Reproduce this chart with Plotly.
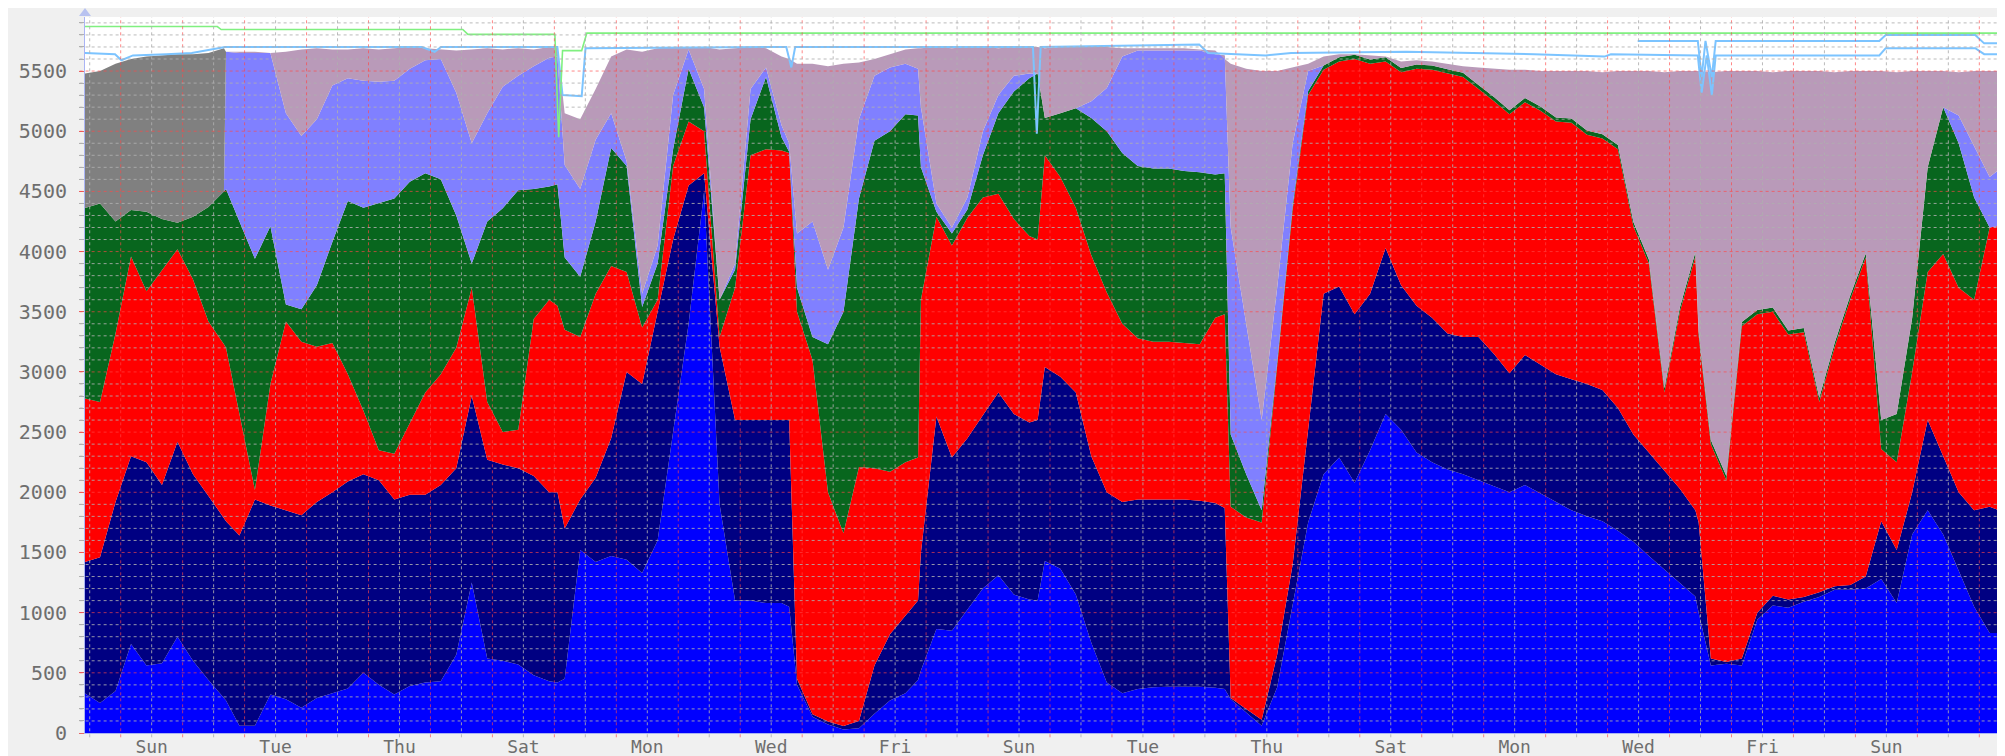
import numpy as np
import pandas as pd
import plotly.graph_objects as go

# ---- sample times: every 6 hours starting Saturday 10:00 (125 samples) ----
sample_start = "2024-03-02 10:00"
n_samples = 125
sunday0 = pd.Timestamp("2024-03-03 00:00")

# ---- cumulative stack tops ----
blue_top = [330,250,350,740,560,580,800,600,440,290,
            60,60,320,280,210,290,330,370,500,400,
            320,390,420,430,650,1250,620,600,570,480,
            430,450,1520,1420,1470,1440,1330,1600,2520,3400,
            4500,1900,1100,1100,1080,1080,400,135,70,30,
            40,160,270,330,520,865,850,1020,1200,1310,
            1150,1110,1430,1365,1150,750,420,330,365,380,
            385,385,385,375,280,170,60,380,1050,1750,
            2150,2290,2080,2350,2650,2520,2330,2250,2190,2150,
            2100,2050,2000,2060,1990,1920,1850,1800,1760,1680,
            1590,1470,1360,1250,1135,560,575,560,940,1060,
            1040,1090,1130,1190,1190,1200,1280,1080,1650,1850,
            1650,1350,1050,830,830]

navy_top = [1420,1460,1920,2300,2250,2060,2420,2150,1970,1780,
            1640,1940,1890,1850,1810,1920,2000,2090,2150,2100,
            1940,1980,1980,2060,2200,2800,2270,2230,2200,2135,
            2000,1700,1940,2120,2450,3000,2900,3500,4100,4550,
            4650,3210,2600,2600,2600,2600,450,155,95,58,
            100,560,820,970,1500,2630,2290,2450,2640,2830,
            2650,2580,3040,2960,2830,2300,2000,1920,1940,1940,
            1940,1940,1930,1910,290,200,110,650,1400,2520,
            3650,3710,3480,3650,4030,3720,3550,3450,3320,3290,
            3290,3150,2990,3140,3060,2980,2940,2900,2850,2700,
            2480,2330,2180,2030,1850,620,590,620,1000,1140,
            1110,1130,1170,1220,1230,1300,1760,1520,2000,2600,
            2300,2000,1850,1880,1830]

red_top = [2780,2750,3320,3960,3670,3850,4020,3770,3420,3230,
           2650,2020,2900,3420,3250,3210,3240,2980,2680,2350,
           2320,2570,2830,2980,3200,3700,2750,2500,2520,3440,
           3600,3350,3290,3650,3880,3830,3370,3600,4710,5080,
           5000,3290,3700,4800,4850,4840,3500,3100,2000,1660,
           2210,2200,2170,2250,3600,4290,4050,4280,4450,4480,
           4270,4130,4800,4620,4365,3970,3660,3400,3280,3250,
           3250,3240,3230,3450,1880,1790,1750,3050,4350,5300,
           5510,5580,5600,5560,5580,5490,5520,5510,5480,5450,
           5350,5250,5140,5240,5170,5080,5070,4970,4940,4850,
           4210,3900,2830,3500,3960,2400,2100,3380,3480,3500,
           3310,3330,2750,3210,3600,3950,2360,2250,3000,3830,
           3980,3700,3600,4200,4220]

green_top = [4360,4400,4250,4345,4330,4270,4240,4290,4370,4500,
             4250,3940,4210,3560,3520,3720,4080,4420,4365,4400,
             4440,4580,4650,4600,4300,3900,4250,4360,4510,4520,
             4540,3950,3790,4250,4860,4710,3540,3900,4850,5520,
             5200,3600,3850,5100,5450,4950,3700,3290,3230,3500,
             4440,4920,5000,5140,4700,4330,4150,4350,4800,5150,
             5330,5440,5110,5150,5190,5110,5000,4820,4710,4690,
             4690,4670,4660,4640,2480,2150,1850,3080,4385,5335,
             5545,5615,5635,5595,5615,5525,5555,5545,5515,5485,
             5385,5285,5175,5275,5205,5115,5105,5005,4975,4885,
             4245,3935,2865,3535,3995,2435,2135,3415,3515,3535,
             3345,3365,2785,3245,3635,3985,2600,2650,3450,4700,
             5200,4900,4450,4200,4220]

lavender_top = [4360,4400,4250,4345,4330,4270,4240,4290,4370,4500,
                5650,5650,5650,5150,4960,5100,5380,5440,5420,5410,
                5420,5520,5590,5600,5320,4900,5150,5370,5460,5540,
                5610,4720,4520,4930,5150,4750,3650,4050,5300,5680,
                5350,3600,3900,5350,5530,5050,4150,4250,3850,4200,
                5100,5460,5530,5560,5200,4400,4200,4450,5000,5300,
                5460,5480,5110,5150,5190,5250,5360,5620,5670,5670,
                5670,5670,5670,5640,4200,3400,2600,3700,4900,5500,
                5545,5615,5635,5595,5615,5525,5555,5545,5515,5485,
                5385,5285,5175,5275,5205,5115,5105,5005,4975,4885,
                4245,3935,2865,3535,3995,2435,2135,3415,3515,3535,
                3345,3365,2785,3245,3635,3985,2600,2650,3450,4700,
                5200,5130,4880,4620,4720]

grey_top = [5480,5500,5560,5600,5620,5630,5640,5640,5650,5690,
            5650,5650,5650,5150,4960,5100,5380,5440,5420,5410,
            5420,5520,5590,5600,5320,4900,5150,5370,5460,5540,
            5610,4720,4520,4930,5150,4750,3650,4050,5300,5680,
            5350,3600,3900,5350,5530,5050,4150,4250,3850,4200,
            5100,5460,5530,5560,5200,4400,4200,4450,5000,5300,
            5460,5480,5110,5150,5190,5250,5360,5620,5670,5670,
            5670,5670,5670,5640,4200,3400,2600,3700,4900,5500,
            5545,5615,5635,5595,5615,5525,5555,5545,5515,5485,
            5385,5285,5175,5275,5205,5115,5105,5005,4975,4885,
            4245,3935,2865,3535,3995,2435,2135,3415,3515,3535,
            3345,3365,2785,3245,3635,3985,2600,2650,3450,4700,
            5200,5130,4880,4620,4720]

mauve_top = [5480,5500,5560,5600,5620,5630,5640,5640,5650,5690,
             5660,5660,5650,5660,5680,5690,5680,5680,5690,5680,
             5690,5700,5690,5680,5670,5680,5690,5680,5690,5680,
             5700,5150,5100,5350,5620,5680,5660,5690,5700,5700,
             5700,5680,5690,5700,5690,5620,5560,5560,5540,5560,
             5570,5600,5640,5680,5690,5700,5690,5700,5700,5690,
             5700,5700,5690,5700,5700,5700,5700,5690,5690,5690,
             5690,5690,5680,5670,5560,5520,5500,5500,5530,5560,
             5620,5640,5640,5630,5620,5580,5590,5580,5560,5540,
             5530,5520,5510,5510,5500,5500,5500,5500,5490,5500,
             5500,5500,5490,5500,5500,5490,5500,5500,5500,5490,
             5500,5500,5500,5490,5500,5500,5500,5490,5500,5500,
             5500,5490,5500,5500,5500]

# ---- extra samples just before steep edges (day offsets from Sunday 00:00) ----
extra_days     = [1.70, 7.05, 10.79, 12.87, 14.80, 17.82, 25.47]
extra_blue     = [270,  420,  1050,  440,   1100,  365,   1000]
extra_navy     = [1760, 2000, 2600,  1100,  2600,  1870,  1750]
extra_red      = [3200, 3550, 4820,  2290,  4100,  3480,  3300]
extra_green    = [4520, 4560, 4830,  5130,  5480,  4650,  3335]
extra_lavender = [5660, 5620, 4900,  5520,  5480,  5630,  3335]
extra_grey     = [5660, 5620, 4900,  5520,  5480,  5630,  3335]
extra_mauve    = [5660, 5700, 5600,  5690,  5700,  5600,  5500]

# ---- line series (day offsets from Sunday 00:00, value) ----
green_line_days = [-0.6, 1.56, 1.622, 5.522, 5.605, 7.008, 7.07, 7.132, 7.441, 7.524, 30.41]
green_line_vals = [5870, 5870, 5845, 5845, 5805, 5805, 4950, 5670, 5670, 5815, 5815]

blue_line_days = [-0.6, -0.091, 0.012, 0.198, 0.735, 1.147, 1.684, 4.862, 5.068, 5.171,
                  7.049, 7.132, 7.441, 7.503, 10.743, 10.825, 10.887, 14.725, 14.787, 14.849,
                  17.408, 17.552, 18.481, 18.893, 20.751, 22.814, 23.949, 24.053, 25.456, 25.518,
                  25.6, 25.683, 25.745, 28.386, 28.489, 29.934, 30.078, 30.41]
blue_line_vals = [5650, 5640, 5590, 5630, 5640, 5650, 5700, 5700, 5660, 5700,
                  5700, 5300, 5290, 5690, 5700, 5530, 5700, 5700, 4980, 5700,
                  5720, 5650, 5630, 5650, 5660, 5640, 5620, 5640, 5630, 5320,
                  5630, 5300, 5630, 5630, 5690, 5690, 5640, 5640]

blue_line2_days = [24.486, 25.456, 25.518, 25.58, 25.683, 25.745, 28.386, 28.489, 29.934, 30.078, 30.41]
blue_line2_vals = [5750, 5750, 5450, 5750, 5450, 5750, 5750, 5800, 5800, 5730, 5730]

day_names_every = 2  # a label every second day at noon

# ---------------------------------------------------------------------------
grid_times = pd.date_range(sample_start, periods=n_samples, freq="6h")
extra_times = [sunday0 + pd.to_timedelta(d, unit="D") for d in extra_days]
all_times = pd.DatetimeIndex(list(grid_times) + extra_times)
order = np.argsort(all_times.values)
times = all_times[order]

def merged(main, extra):
    return np.asarray(list(main) + list(extra), dtype=float)[order]

def to_time(days):
    return [sunday0 + pd.to_timedelta(d, unit="D") for d in days]

layers = [
    (merged(blue_top, extra_blue), "#0000ff"),
    (merged(navy_top, extra_navy), "#000082"),
    (merged(red_top, extra_red), "#ff0000"),
    (merged(green_top, extra_green), "#08661e"),
    (merged(lavender_top, extra_lavender), "#8080ff"),
    (merged(grey_top, extra_grey), "#808080"),
    (merged(mauve_top, extra_mauve), "#b99ab9"),
]

fig = go.Figure()
for i, (ys, col) in enumerate(layers):
    fig.add_trace(go.Scatter(
        x=times, y=ys, mode="lines",
        line=dict(width=0, color=col),
        fill="tozeroy" if i == 0 else "tonexty",
        fillcolor=col, hoverinfo="skip", showlegend=False))

fig.add_trace(go.Scatter(x=to_time(blue_line_days), y=blue_line_vals, mode="lines",
                         line=dict(color="#7cc4ff", width=2), showlegend=False, hoverinfo="skip"))
fig.add_trace(go.Scatter(x=to_time(blue_line2_days), y=blue_line2_vals, mode="lines",
                         line=dict(color="#7cc4ff", width=2), showlegend=False, hoverinfo="skip"))
fig.add_trace(go.Scatter(x=to_time(green_line_days), y=green_line_vals, mode="lines",
                         line=dict(color="#80f080", width=1.6), showlegend=False, hoverinfo="skip"))

x_start = sunday0 - pd.to_timedelta(0.576, unit="D")
x_end = sunday0 + pd.to_timedelta(30.35, unit="D")
y_max = 5949

shapes = []
# vertical grid: red at midnight, grey at noon (drawn above the areas)
for k in range(-1, 32):
    for frac, col in ((0.0, "rgba(255,70,70,0.65)"), (0.5, "rgba(175,175,175,0.85)")):
        t = sunday0 + pd.to_timedelta(k + frac, unit="D")
        if x_start <= t <= x_end:
            shapes.append(dict(type="line", xref="x", yref="paper", x0=t, x1=t,
                               y0=-0.006, y1=1, layer="above",
                               line=dict(color=col, width=1, dash="dot")))
# horizontal grid: red every 500, grey every 100
for lvl in range(100, 6000, 100):
    col = "rgba(255,70,70,0.65)" if lvl % 500 == 0 else "rgba(175,175,175,0.85)"
    shapes.append(dict(type="line", xref="paper", yref="y", x0=-0.0028, x1=1,
                       y0=lvl, y1=lvl, layer="above",
                       line=dict(color=col, width=1, dash="dot")))
# arrow head on top of the y axis
shapes.append(dict(type="path", xref="paper", yref="paper", xsizemode="pixel", ysizemode="pixel",
                   xanchor=0, yanchor=1, path="M -6,1 L 6,1 L 0,9 Z",
                   fillcolor="#b8c2f0", line=dict(width=0), layer="above"))

label_ticks = [sunday0 + pd.to_timedelta(k + 0.5, unit="D") for k in range(0, 31, day_names_every)]

# the page body adds an 8px offset, so the figure is 8px smaller and margins shifted
fig.update_layout(
    width=1997, height=748,
    margin=dict(l=77, r=4, t=9, b=23),
    paper_bgcolor="#f0f0f0", plot_bgcolor="#ffffff",
    shapes=shapes,
    font=dict(family="DejaVu Sans Mono", size=20, color="#6e6e6e"),
    xaxis=dict(type="date", range=[x_start, x_end], tickvals=label_ticks, tickformat="%a",
               automargin=False,
               showgrid=False, zeroline=False, showline=True, linecolor="#aab4f4", linewidth=1,
               ticks="", ticklabelstandoff=-3, tickfont=dict(size=18, color="#6e6e6e")),
    yaxis=dict(range=[0, y_max], tickvals=list(range(0, 6000, 500)), automargin=False,
               showgrid=False, zeroline=False, showline=True, linecolor="#aab4f4", linewidth=1,
               ticks="outside", ticklen=5, tickcolor="rgba(255,70,70,0.7)",
               minor=dict(dtick=100, ticks="outside", ticklen=5, tickcolor="#b0b0b0", showgrid=False),
               ticklabelstandoff=8, tickfont=dict(size=20, color="#6e6e6e")),
)

fig.write_html("out.html")
